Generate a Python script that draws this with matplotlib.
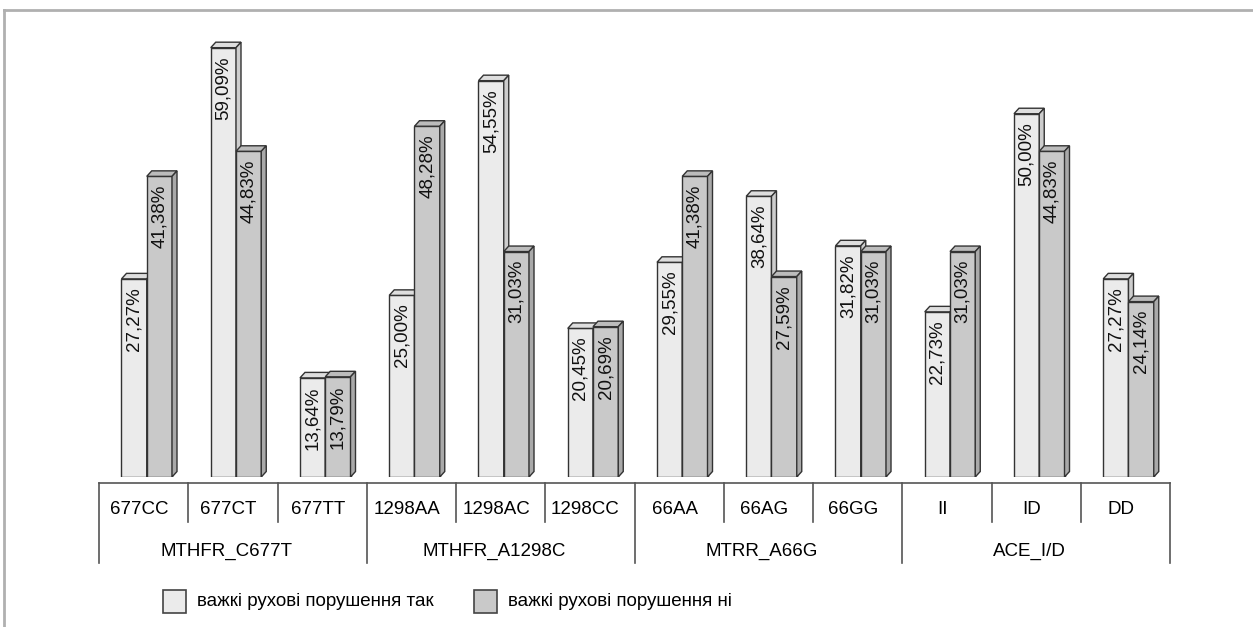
import matplotlib
matplotlib.use('Agg')
from matplotlib import pyplot as plt, patches, transforms
from matplotlib.lines import Line2D

plt.rcParams['font.family'] = ['Liberation Sans', 'DejaVu Sans']

genotypes = ['677CC', '677CT', '677TT', '1298AA', '1298AC', '1298CC',
             '66AA', '66AG', '66GG', 'II', 'ID', 'DD']
genes = ['MTHFR_C677T', 'MTHFR_A1298C', 'MTRR_A66G', 'ACE_I/D']
genes_size = [3, 3, 3, 3]
severe_yes = [27.27, 59.09, 13.64, 25.00, 54.55, 20.45, 29.55, 38.64, 31.82, 22.73, 50.00, 27.27]
severe_no = [41.38, 44.83, 13.79, 48.28, 31.03, 20.69, 41.38, 27.59, 31.03, 31.03, 44.83, 24.14]
series_names = ['важкі рухові порушення так', 'важкі рухові порушення ні']

W, H = 1253, 627
fig = plt.figure(figsize=(W / 100, H / 100), dpi=100)
ax = fig.add_axes([99 / W, 1 - 477 / H, (1170 - 99) / W, (477 - 20) / H])
ax.set_xlim(-0.5, len(genotypes) - 0.5)
ax.set_ylim(0, 62.9)
ax.axis('off')

# face colours: front, top, side
styles = [('#ebebeb', '#dedede', '#cdcdcd'),
          ('#c9c9c9', '#bcbcbc', '#a9a9a9')]
edge = '#333333'
bw = 0.283
offsets = [0.035 - bw, 0.035]

# depth of the pseudo 3d bars, in px converted to data units
fig.canvas.draw()
p0 = ax.transData.transform((0, 0))
p1 = ax.transData.transform((1, 1))
dx = 5 / (p1[0] - p0[0])
dy = 5.5 / (p1[1] - p0[1])

for k, vals in enumerate([severe_yes, severe_no]):
    front, top, side = styles[k]
    xs = [i + offsets[k] for i in range(len(genotypes))]
    ax.bar(xs, vals, width=bw, align='edge', color=front, edgecolor=edge,
           linewidth=1, zorder=2 + k)
    for x0, h in zip(xs, vals):
        x1 = x0 + bw
        ax.add_patch(patches.Polygon([(x0, h), (x1, h), (x1 + dx, h + dy), (x0 + dx, h + dy)],
                                     closed=True, facecolor=top, edgecolor=edge,
                                     linewidth=1, zorder=2 + k))
        ax.add_patch(patches.Polygon([(x1, 0), (x1 + dx, dy), (x1 + dx, h + dy), (x1, h)],
                                     closed=True, facecolor=side, edgecolor=edge,
                                     linewidth=1, zorder=2 + k))
        ax.annotate(f'{h:.2f}'.replace('.', ',') + '%', xy=(x0 + bw / 2, h),
                    xytext=(0, -6), textcoords='offset points', rotation=90,
                    ha='center', va='top', fontsize=13.5, color='#111111', zorder=6)

# category table under the bars
tr = transforms.blended_transform_factory(ax.transData, fig.transFigure)
fy = lambda py: 1 - py / H
line_kw = dict(color='#555555', linewidth=1.2, transform=tr, clip_on=False)
ax.add_line(Line2D([-0.5, len(genotypes) - 0.5], [fy(483), fy(483)], **line_kw))
edges = [-0.5]
for n in genes_size:
    edges.append(edges[-1] + n)
for i in range(len(genotypes) + 1):
    xe = i - 0.5
    bottom = 563 if xe in edges else 522
    ax.add_line(Line2D([xe, xe], [fy(483), fy(bottom)], **line_kw))
for i, g in enumerate(genotypes):
    ax.text(i - 0.05, fy(510), g, transform=tr, ha='center', va='center', fontsize=13.5)
for g, a, b in zip(genes, edges[:-1], edges[1:]):
    ax.text((a + b) / 2 - 0.07, fy(551), g, transform=tr, ha='center', va='center', fontsize=13.5)

# legend
for k, (name, xpix) in enumerate(zip(series_names, [163, 474])):
    fig.add_artist(patches.Rectangle((xpix / W, fy(613)), 23 / W, 23 / H,
                                     transform=fig.transFigure, facecolor=styles[k][0],
                                     edgecolor='#444444', linewidth=1.2))
    fig.text((xpix + 34) / W, fy(601), name, ha='left', va='center', fontsize=13.5)

# outer frame
frame_kw = dict(color='#b0b0b0', linewidth=2, transform=fig.transFigure)
fig.add_artist(Line2D([4 / W, 1], [fy(10), fy(10)], **frame_kw))
fig.add_artist(Line2D([4 / W, 4 / W], [fy(10), 0], **frame_kw))

fig.savefig('out.png', dpi=100, facecolor='white')
